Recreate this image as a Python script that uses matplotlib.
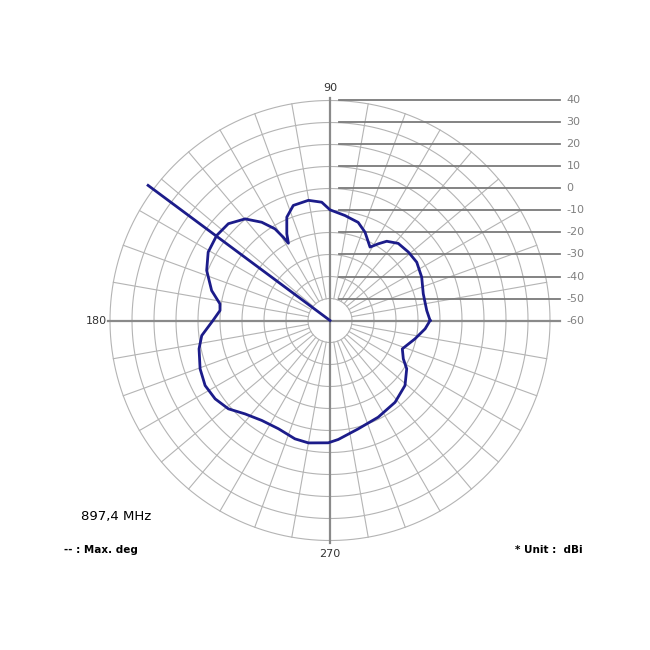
import matplotlib.pyplot as plt
import numpy as np

# Measured radiation pattern (angle in degrees, gain in dBi)
angles = [0, 5.9, 16, 25.3, 33.9, 41.1, 48.5, 54.4, 57.8, 61.4, 68.4, 74, 81.9,
          90, 94, 100.2, 107.7, 112.7, 116.5, 118.3, 119.3, 121, 124.8, 129.9,
          136.4, 143.1, 150.7, 157.9, 165.8, 171.4, 174.8, 180, 186.7, 192.2,
          200.4, 207.5, 214.3, 221, 227.7, 235.7, 244.5, 253.5, 260, 269.2,
          274, 284.6, 296.5, 308.5, 319.1, 327.8, 332.4, 338.6, 347.8, 355]
gain = [-14.5, -15.8, -15.9, -13.9, -12.5, -12.7, -13.2, -15.7, -18.8, -22.0,
        -16.8, -13.6, -11.8, -9.7, -6.1, -4.5, -5.1, -9.1, -16.0, -20.1, -16.6,
        -11.4, -5.6, 0.2, 3.8, 4.4, 3.5, 0.5, -4.5, -9.4, -9.8, -6.8, -1.3, 0.9,
        3.0, 4.0, 3.2, 1.2, -2.6, -5.0, -5.5, -3.9, -3.5, -4.4, -5.8, -9.1,
        -10.9, -12.5, -14.9, -18.8, -22.4, -24.7, -20.5, -16.6]
max_deg = 143.4
db_levels = [40, 30, 20, 10, 0, -10, -20, -30, -40, -50, -60]
frequency = "897,4 MHz"

DB_MIN = -60


def to_xy(deg, db):
    r = np.asarray(db, dtype=float) - DB_MIN
    t = np.radians(deg)
    return r * np.cos(t), r * np.sin(t)


fig = plt.figure(figsize=(6.5, 6.5), dpi=100)
ax = fig.add_axes([0, 0, 1, 1])
ax.set_xlim(-150, 145.45)
ax.set_ylim(-149.77, 145.68)
ax.axis('off')

# rings
t = np.linspace(0, 2 * np.pi, 400)
for lev in db_levels[:-1]:
    r = lev - DB_MIN
    ax.plot(r * np.cos(t), r * np.sin(t), color='#b4b4b4', lw=0.8, zorder=1)

# spokes every 10 degrees
for a in range(0, 360, 10):
    if a % 90 == 0:
        continue
    x, y = to_xy([a, a], [-50, 40])
    ax.plot(x, y, color='#b4b4b4', lw=0.8, zorder=1)

# main axes
ax.plot([0, 0], [-101, 101], color='#8a8a8a', lw=1.6, zorder=2)
ax.plot([-101, 104.5], [0, 0], color='#8a8a8a', lw=1.6, zorder=2)

# dB scale lines and labels on the right
for lev in db_levels:
    y = lev - DB_MIN
    if lev != DB_MIN:
        ax.plot([4, 104.5], [y, y], color='#7a7a7a', lw=1.3, zorder=2)
    ax.text(107.5, y, str(lev), color='#808080', fontsize=8,
            ha='left', va='center')

# angle labels
ax.text(0, 103.5, "90", ha='center', va='bottom', fontsize=8, color='#333333')
ax.text(-101.5, 0, "180", ha='right', va='center', fontsize=8, color='#333333')
ax.text(0, -104, "270", ha='center', va='top', fontsize=8, color='#333333')

# pattern
px, py = to_xy(angles + [angles[0]], gain + [gain[0]])
ax.plot(px, py, color='#1c1c8a', lw=2, zorder=4)

# max direction
mx, my = to_xy([max_deg, max_deg], [DB_MIN, 43])
ax.plot(mx, my, color='#1c1c8a', lw=2, zorder=4)

ax.text(-113, -89, frequency, fontsize=9.5, ha='left', va='center')
ax.text(-121, -104.5, "-- : Max. deg", fontsize=7.5, fontweight='bold',
        ha='left', va='center')
ax.text(115, -104.5, "* Unit :  dBi", fontsize=7.5, fontweight='bold',
        ha='right', va='center')

fig.savefig('out.png', dpi=100, facecolor='white')
